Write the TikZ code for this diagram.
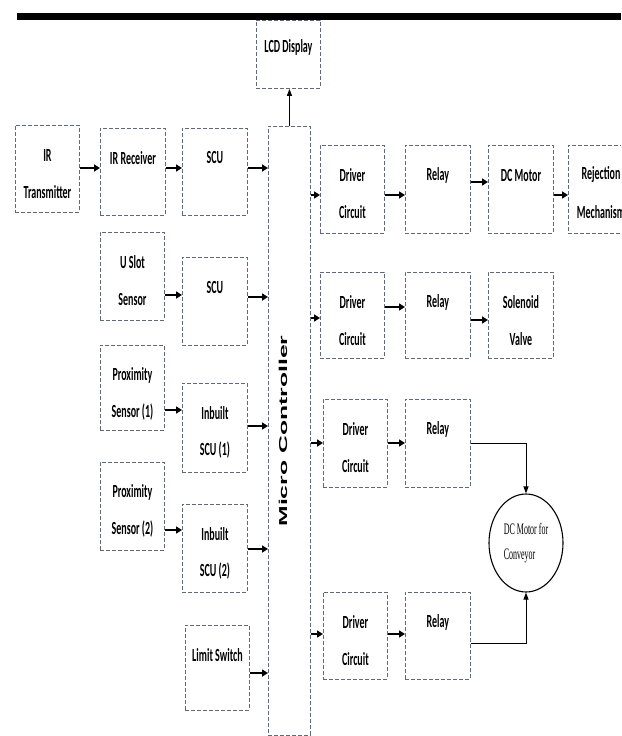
\documentclass[tikz,border=0pt]{standalone}
\usepackage{fontspec}
\usepackage{graphicx}
\usetikzlibrary{arrows.meta,shapes.geometric}
\newfontfamily\carl{Carlito}
\newfontfamily\lsans{Liberation Sans}
\newfontfamily\lserif{Liberation Serif}
\definecolor{dashc}{RGB}{95,105,125}
\tikzset{
  box/.style={draw=dashc, line width=0.9pt, dash pattern=on 4pt off 2pt, inner sep=0pt, fill=white},
  txt/.style={inner sep=0pt, font=\carl\bfseries\fontsize{10}{12}\selectfont},
  arr/.style={line width=1.7pt, -{Triangle[length=6pt,width=7pt]}},
  thinarr/.style={line width=1pt, -{Triangle[length=7pt,width=5pt]}},
}
\newcommand\bx[7]{%
  \pgfmathsetmacro\bxw{#4-#2}\pgfmathsetmacro\bxh{#5-#3}%
  \node[box, minimum width=\bxw pt, minimum height=\bxh pt, anchor=north west] (#1) at (#2,#3) {};
  \node[txt] at ([yshift=-30pt]#1.north) {\scalebox{1}[1.85]{#6}};
  \if\relax\detokenize{#7}\relax\else
  \node[txt] at ([yshift=-67pt]#1.north) {\scalebox{1}[1.85]{#7}};
  \fi
}
\newcommand\harr[3]{\draw[arr] (#1.east |- 0,#3) -- (#2.west |- 0,#3);}
\begin{document}
\begin{tikzpicture}[x=1pt,y=-1pt]
\useasboundingbox (0,0) rectangle (621,736);
\fill[white] (0,0) rectangle (621,736);
\clip (0,0) rectangle (621,736);
% LCD display
\node[box, minimum width=64pt, minimum height=68pt, anchor=north west] (lcd) at (256,20) {};
\node[txt] at ([yshift=-27pt]lcd.north) {\scalebox{1}[1.85]{LCD Display}};
\fill[black] (17,13) rectangle (621,20);
% left column
\bx{irt}{15}{125}{79}{212}{IR}{Transmitter}
\bx{irr}{100}{128}{165}{215}{IR Receiver}{}
\bx{scua}{182}{128}{247}{215}{SCU}{}
\bx{usl}{100}{232}{164}{320}{U Slot}{Sensor}
\bx{scub}{182}{257}{247}{345}{SCU}{}
\bx{pxa}{100}{345}{164}{430}{Proximity}{Sensor (1)}
\bx{iba}{182}{383}{247}{472}{Inbuilt}{SCU (1)}
\bx{pxb}{100}{462}{164}{550}{Proximity}{Sensor (2)}
\bx{ibb}{182}{504}{247}{592}{Inbuilt}{SCU (2)}
\bx{ls}{185}{625}{249}{710}{Limit Switch}{}
% micro controller
\node[box, minimum width=42pt, minimum height=609pt, anchor=north west] (mc) at (268,126) {};
\node[rotate=90, inner sep=0pt] at (283,431) {\lsans\bfseries\fontsize{11.5}{12}\selectfont\scalebox{2.15}[1]{Micro Controller}};
% right side
\bx{dra}{320}{145}{384}{233}{Driver}{Circuit}
\bx{rla}{405}{145}{470}{233}{Relay}{}
\bx{dcm}{488}{145}{553}{233}{DC Motor}{}
\bx{rej}{568}{145}{633}{233}{Rejection}{Mechanism}
\bx{drb}{320}{272}{384}{358}{Driver}{Circuit}
\bx{rlb}{405}{272}{470}{358}{Relay}{}
\bx{sol}{488}{272}{553}{358}{Solenoid}{Valve}
\bx{drc}{323}{399}{387}{487}{Driver}{Circuit}
\bx{rlc}{405}{399}{470}{487}{Relay}{}
\bx{drd}{323}{592}{387}{679}{Driver}{Circuit}
\bx{rld}{405}{592}{470}{679}{Relay}{}
% motor
\node[draw, ellipse, line width=1.1pt, minimum width=74pt, minimum height=98pt, inner sep=0pt,
  align=left, font=\lserif\fontsize{16}{25}\selectfont] (motor) at (526,543)
  {\scalebox{0.5}[1]{DC Motor for}\\\scalebox{0.5}[1]{Conveyor}};
% arrows
\harr{irt}{irr}{168}
\harr{irr}{scua}{168}
\harr{scua}{mc}{168}
\harr{usl}{scub}{295}
\harr{scub}{mc}{297}
\harr{pxa}{iba}{410}
\harr{iba}{mc}{426}
\harr{pxb}{ibb}{530}
\harr{ibb}{mc}{549}
\harr{ls}{mc}{673}
\harr{mc}{dra}{195}
\harr{dra}{rla}{195}
\harr{rla}{dcm}{182}
\harr{dcm}{rej}{195}
\harr{mc}{drb}{318}
\harr{drb}{rlb}{307}
\harr{rlb}{sol}{320}
\harr{mc}{drc}{443}
\harr{drc}{rlc}{443}
\harr{mc}{drd}{634}
\harr{drd}{rld}{634}
\draw[thinarr] (rlc.east |- 0,443) -| (motor.north);
\draw[thinarr] (rld.east |- 0,643) -| (motor.south);
\draw[thinarr] (mc.north) -- (mc.north |- lcd.south);
\end{tikzpicture}
\end{document}
